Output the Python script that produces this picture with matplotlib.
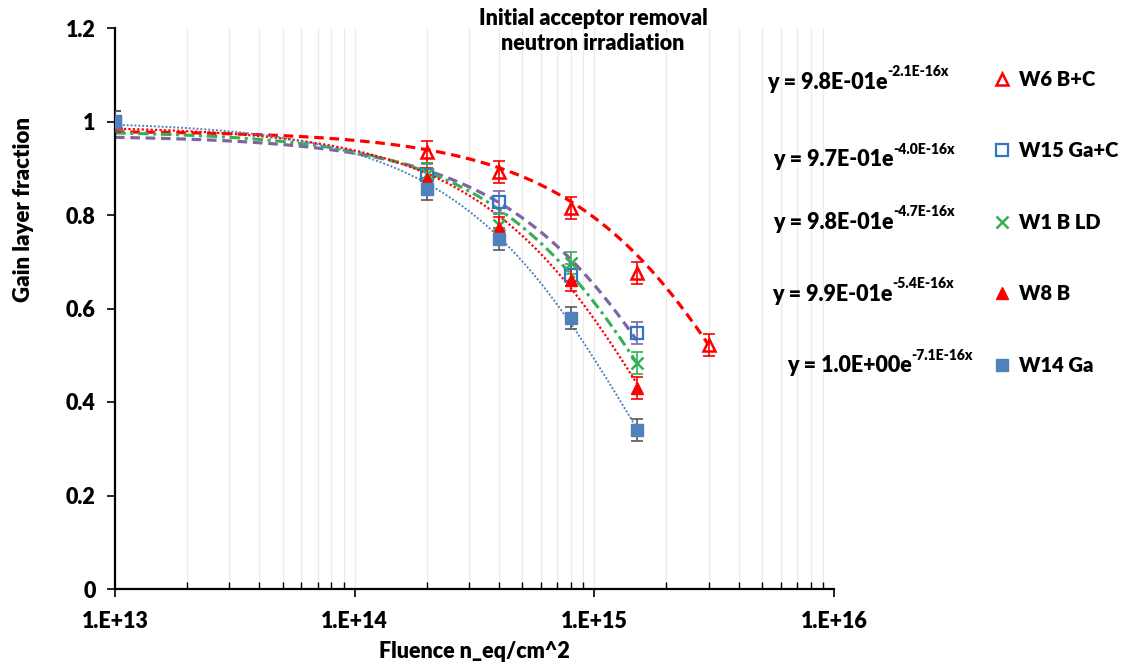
import numpy as np
import matplotlib.pyplot as plt
from matplotlib.lines import Line2D
from matplotlib.ticker import LogLocator, NullFormatter

plt.rcParams['font.family'] = ['Lato', 'DejaVu Sans']

# data
names = ['W6 B+C', 'W15 Ga+C', 'W1 B LD', 'W8 B', 'W14 Ga']
fluence = [
    [1e13, 2e14, 4e14, 8e14, 1.5e15, 3e15],
    [1e13, 2e14, 4e14, 8e14, 1.5e15],
    [1e13, 2e14, 4e14, 8e14, 1.5e15],
    [1e13, 2e14, 4e14, 8e14, 1.5e15],
    [1e13, 2e14, 4e14, 8e14, 1.5e15],
]
frac = [
    [1.0, 0.935, 0.892, 0.815, 0.676, 0.522],
    [1.0, 0.886, 0.828, 0.672, 0.548],
    [1.0, 0.888, 0.779, 0.697, 0.483],
    [1.0, 0.878, 0.772, 0.661, 0.430],
    [1.0, 0.856, 0.749, 0.580, 0.340],
]
err = 0.023
# fit parameters shown on the chart: y = a * exp(-b x)
fit_a = [0.98, 0.97, 0.98, 0.99, 1.0]
fit_b = [2.1e-16, 4.0e-16, 4.7e-16, 5.4e-16, 7.1e-16]
eq_main = ['y = 9.8E-01e', 'y = 9.7E-01e', 'y = 9.8E-01e', 'y = 9.9E-01e', 'y = 1.0E+00e']
eq_sup = ['-2.1E-16x', '-4.0E-16x', '-4.7E-16x', '-5.4E-16x', '-7.1E-16x']

W, H = 1125, 667
fig = plt.figure(figsize=(11.25, 6.67), dpi=100)
ax = fig.add_axes([115 / W, 1 - 589 / H, (834 - 115) / W, (589 - 28) / H])

red = '#ff0000'
blue = '#4f81bd'
styles = [
    dict(marker='^', mfc='none', mec=red, ms=9, mew=1.8, ecolor=red),
    dict(marker='s', mfc='none', mec='#2f75c8', ms=9, mew=1.6, ecolor='#7f62a8'),
    dict(marker='x', mfc='none', mec='#33b054', ms=9, mew=1.8, ecolor='#33b054'),
    dict(marker='^', mfc=red, mec=red, ms=8, mew=1, ecolor=red),
    dict(marker='s', mfc=blue, mec=blue, ms=9, mew=1, ecolor='#595959'),
]
fit_styles = [
    dict(color=red, ls=(0, (3, 1.8)), lw=2.3),
    dict(color='#8064a2', ls=(0, (3, 1.8)), lw=2.3),
    dict(color='#33b054', ls=(0, (3.5, 1.5, 1, 1.5)), lw=2.2),
    dict(color=red, ls=(0, (1, 1)), lw=1.6),
    dict(color=blue, ls=(0, (1, 1)), lw=1.4),
]

handles = []
for i in range(len(names)):
    x = np.array(fluence[i])
    xs = np.logspace(13, np.log10(x.max()), 300)
    ax.plot(xs, fit_a[i] * np.exp(-fit_b[i] * xs), zorder=2, **fit_styles[i])
    st = dict(styles[i])
    ec = st.pop('ecolor')
    ax.errorbar(x, frac[i], yerr=err, fmt='none', ecolor=ec, elinewidth=1.2,
                capsize=4, capthick=1.2, zorder=3)
    ax.plot(x, frac[i], ls='none', zorder=4, **st)
    handles.append(Line2D([], [], ls='none', **st))

ax.set_xscale('log')
ax.set_xlim(1e13, 1e16)
ax.set_ylim(0, 1.2)
ax.set_xticks([1e13, 1e14, 1e15, 1e16])
ax.set_xticklabels(['1.E+13', '1.E+14', '1.E+15', '1.E+16'])
ax.xaxis.set_minor_locator(LogLocator(base=10, subs=np.arange(2, 10)))
ax.xaxis.set_minor_formatter(NullFormatter())
ax.set_yticks([0, 0.2, 0.4, 0.6, 0.8, 1.0, 1.2])
ax.set_yticklabels(['0', '0.2', '0.4', '0.6', '0.8', '1', '1.2'])
ax.grid(True, which='both', axis='x', color='#ebebeb', lw=0.9)
ax.set_axisbelow(True)
for s in ['top', 'right']:
    ax.spines[s].set_visible(False)
for s in ['left', 'bottom']:
    ax.spines[s].set_linewidth(1.6)
ax.tick_params(axis='both', which='major', direction='out', length=6, width=1.2,
               labelsize=15.5, pad=8)
ax.tick_params(axis='x', which='major', pad=10)
ax.tick_params(axis='x', which='minor', direction='in', length=5, width=1)
for lab in ax.get_xticklabels() + ax.get_yticklabels():
    lab.set_fontweight('heavy')

fig.text(474 / W, 1 - 652 / H, 'Fluence n_eq/cm^2', ha='center', va='center',
         fontsize=15.5, fontweight='heavy')
fig.text(24 / W, 1 - 210 / H, 'Gain layer fraction', ha='center', va='center',
         rotation=90, fontsize=16, fontweight='heavy')

fig.text(593 / W, 1 - 31 / H, 'Initial acceptor removal\nneutron irradiation',
         ha='center', va='center', fontsize=15.5, fontweight='heavy', linespacing=1.2)

fig.legend(handles, names, loc='upper left', bbox_to_anchor=(975 / W, 1 - 52 / H),
           frameon=False, handlelength=0.9, handletextpad=0.4,
           labelspacing=2.6, prop={'weight': 'heavy', 'size': 14.5})

eq_x = [767, 773, 773, 772, 787]
eq_y = [89, 166, 229, 301, 372]
for i in range(len(names)):
    t = fig.text(eq_x[i] / W, 1 - eq_y[i] / H, eq_main[i], ha='left', va='baseline',
                 fontsize=15.5, fontweight='heavy')
    ax.annotate(eq_sup[i], xy=(1, 1), xycoords=t, ha='left', va='center',
                fontsize=10, fontweight='heavy', annotation_clip=False)

fig.savefig('out.png', dpi=100)
